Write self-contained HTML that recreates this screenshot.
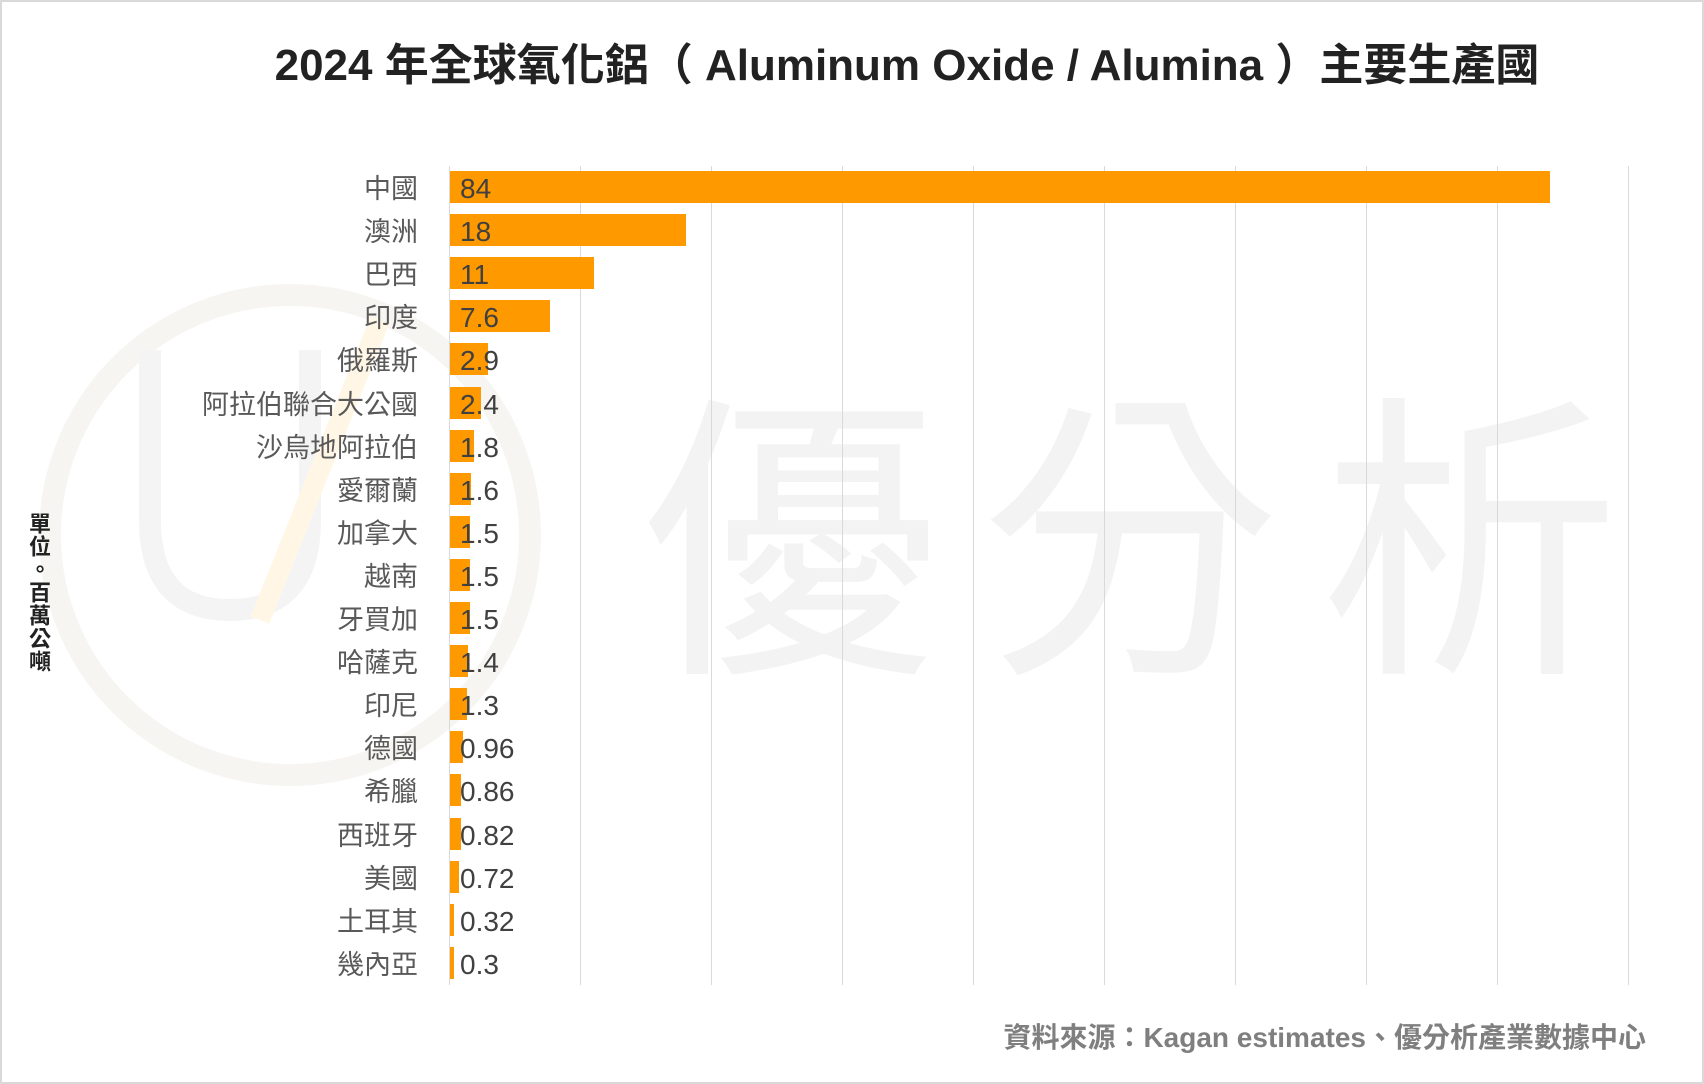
<!DOCTYPE html>
<html><head><meta charset="utf-8"><style>
body{margin:0;width:1704px;height:1084px;background:#fff;position:relative;overflow:hidden;font-family:"Liberation Sans","Noto Sans CJK TC",sans-serif}
.b{position:absolute;border:2px solid #d9d9d9;left:0;top:0;width:1700px;height:1080px}
.t{position:absolute;top:29px;left:0;width:1814px;text-align:center;font-size:44px;font-weight:bold;color:#222;white-space:nowrap}
.wm{position:absolute;left:640px;top:370px;font-size:300px;color:#f3f3f3;letter-spacing:40px;font-family:"Noto Sans CJK TC",sans-serif;line-height:1}
.g{position:absolute;top:166px;height:819px;width:1px;background:#d9d9d9}
.bar{position:absolute;left:450px;height:32px;background:#ff9900}
.lab{position:absolute;right:1286px;font-size:27px;color:#595959;line-height:34px;white-space:nowrap}
.v{position:absolute;left:460px;font-size:28px;color:#404040;line-height:34px}
.yt{position:absolute;left:22px;top:512px;writing-mode:vertical-rl;font-size:22px;color:#222;font-weight:bold;letter-spacing:1px}
.src{position:absolute;right:58px;top:1016px;font-size:28px;font-weight:bold;color:#7f7f7f;white-space:nowrap}
</style></head><body>
<div class="b"></div>
<svg style="position:absolute;left:0;top:0" width="1704" height="1084">
<circle cx="290" cy="535" r="240" fill="none" stroke="#f7f5f2" stroke-width="22"/>
<path d="M150 350 L150 520 Q150 610 230 610 Q310 610 310 520 L310 350" fill="none" stroke="#f4f4f4" stroke-width="22"/>
<path d="M260 620 L380 320" stroke="#fff6e6" stroke-width="20"/>
</svg>
<div class="wm">優分析</div>
<div class="t">2024 年全球氧化鋁（ Aluminum Oxide / Alumina ）主要生產國</div>
<div id="c"></div>
<div class="yt">單位。百萬公噸</div>
<div class="src">資料來源：Kagan estimates、優分析產業數據中心</div>
<script>
var d=[["中國",84],["澳洲",18],["巴西",11],["印度",7.6],["俄羅斯",2.9],["阿拉伯聯合大公國",2.4],["沙烏地阿拉伯",1.8],["愛爾蘭",1.6],["加拿大",1.5],["越南",1.5],["牙買加",1.5],["哈薩克",1.4],["印尼",1.3],["德國",0.96],["希臘",0.86],["西班牙",0.82],["美國",0.72],["土耳其",0.32],["幾內亞",0.3]];
var h="";
for(var i=0;i<10;i++)h+='<div class="g" style="left:'+(449+i*131)+'px"></div>';
d.forEach(function(r,i){var y=171+i*43.1;var w=r[1]*13.1;
h+='<div class="bar" style="top:'+y+'px;width:'+w+'px"></div>';
h+='<div class="lab" style="top:'+(y+1)+'px">'+r[0]+'</div>';
h+='<div class="v" style="top:'+(y+1)+'px">'+r[1]+'</div>';});
document.getElementById("c").innerHTML=h;
</script>
</body></html>
